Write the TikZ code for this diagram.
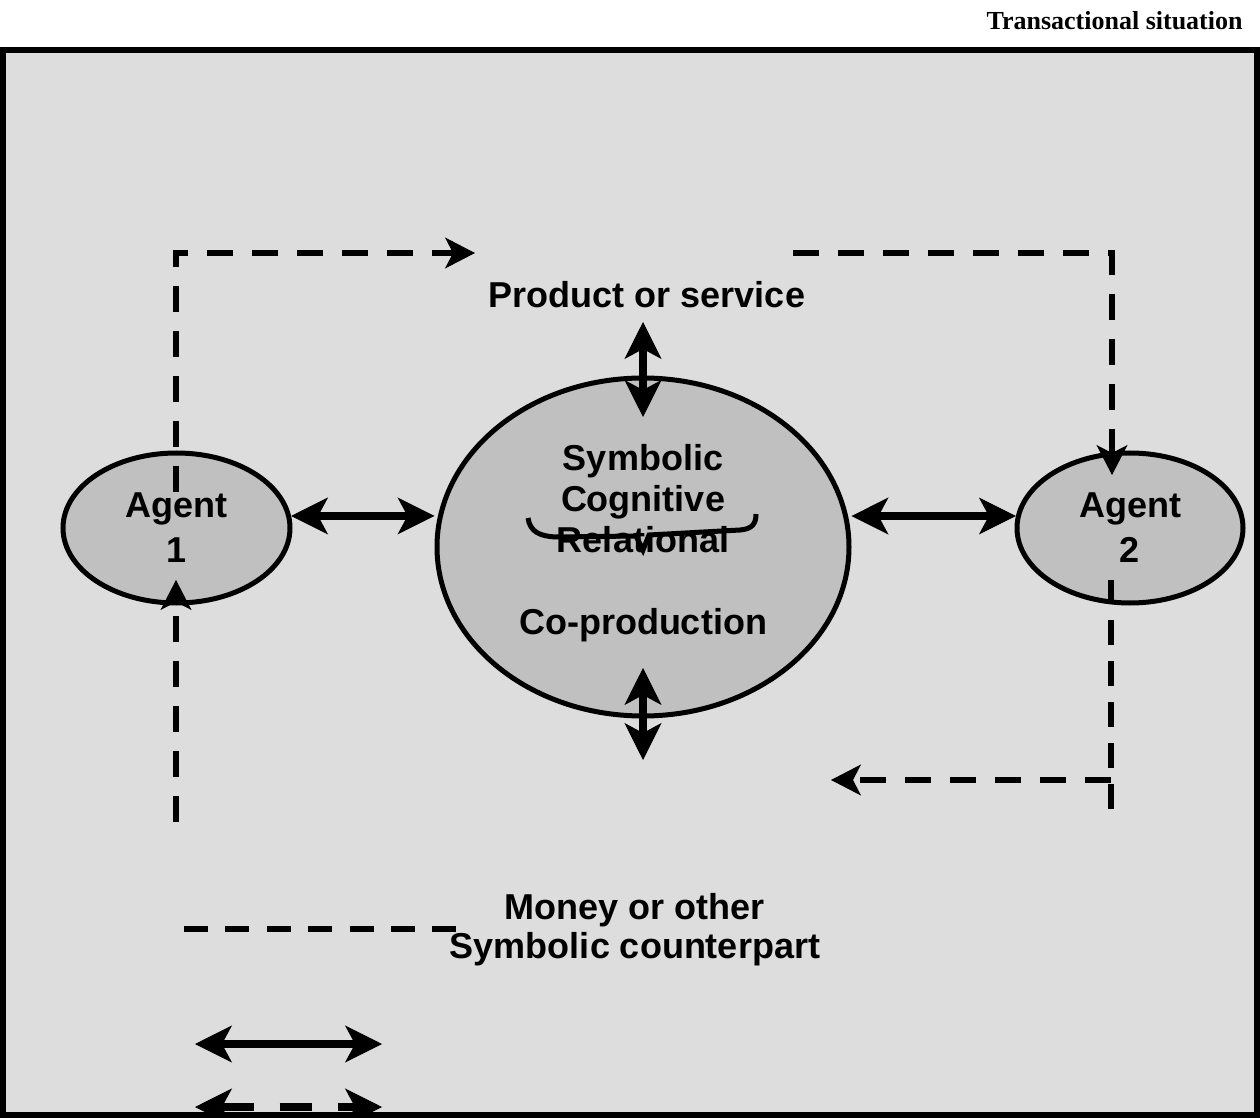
\documentclass[tikz,border=0pt]{standalone}
\usepackage{fontspec}
\setmainfont{Liberation Sans}
\newfontfamily\titlefont{Liberation Serif}
\usetikzlibrary{positioning,shapes.geometric,arrows.meta}
\definecolor{framegray}{HTML}{DDDDDD}
\definecolor{bubblegray}{HTML}{C0C0C0}

\begin{document}
\begin{tikzpicture}
            [x=0.5pt, y=-0.5pt,
            font=\bfseries\fontsize{18}{20.5}\selectfont,
            bubble/.style={ellipse, draw=black, line width=2.5pt, fill=bubblegray, inner sep=0pt, align=center},
            label text/.style={align=center, inner sep=0pt},
            biarrow/.style={line width=4pt,
                {Stealth[length=18.5pt, width=18.5pt, inset=5pt, line width=0.5pt]}-{Stealth[length=18.5pt, width=18.5pt, inset=5pt, line width=0.5pt]}},
            dashline/.style={line width=3.3pt, dash pattern=on 13pt off 9.5pt},
            flowarrow/.style={dashline, -{Stealth[length=15pt, width=15.5pt, inset=4pt, line width=0.5pt]}}]
            \clip (0,0) rectangle (1260,1118);
            \node [anchor=east, inner sep=0pt, font=\titlefont\bfseries\fontsize{13}{15}\selectfont] (title) at (1243,21) {Transactional situation};
            \draw [line width=2.8pt, fill=framegray] (3,50) rectangle (1257,1115);
            % the three bubbles
            \node [bubble, minimum width=206pt, minimum height=169pt] (core) at (643,547) {};
            \node [bubble, minimum width=113.5pt, minimum height=75pt, font=\bfseries\fontsize{18}{22.5}\selectfont] (agent1) at (176.5,528) {Agent\\1};
            \node [bubble, minimum width=113pt, minimum height=75pt, font=\bfseries\fontsize{18}{22.5}\selectfont] (agent2) at (1130,528) {Agent\\2};
            \node [label text] (modes) at (643,499) {Symbolic\\Cognitive\\Relational};
            \node [label text] (coprod) at (643,625) {Co-production};
            \node [label text] (product) at (647,295) {Product or service};
            \node [label text, font=\bfseries\fontsize{18}{19.5}\selectfont] (money) at (635,930) {Money or other\\Symbolic counterpart};
            \draw [line width=2.5pt] (528,518) .. controls (530,532) and (540,536) .. (555,537) -- (636,536) -- (643,550) -- (649,535) -- (740,530) .. controls (752,529) and (756,524) .. (756,514);
            % solid exchanges
            \draw [biarrow] (agent1.6) -- (agent1.6 -| core.west);
            \draw [biarrow] (core.east |- agent2.174) -- (agent2.174);
            \coordinate (ptop) at (643,322);
            \coordinate (pin) at (643,417);
            \draw [biarrow] (ptop) -- (pin);
            \coordinate (cin) at (643,668);
            \coordinate (cout) at (643,760);
            \draw [biarrow] (cin) -- (cout);
            % dashed flows
            \coordinate (a1top) at (176,492);
            \coordinate (prodarrow) at (475,253);
            \draw [flowarrow] (a1top) |- (prodarrow);
            \coordinate (prodback) at (793,253);
            \coordinate (a2top) at (1112,475);
            \draw [flowarrow] (prodback) -| (a2top);
            \coordinate (a2low) at (1111,580);
            \coordinate (a2end) at (1111,809);
            \draw [dashline, dash pattern=on 12.5pt off 8pt] (a2end) -- (a2low);
            \coordinate (moneyfork) at (1111,780);
            \coordinate (moneyarrow) at (831,780);
            \draw [flowarrow] (moneyfork) -- (moneyarrow);
            \coordinate (a1low) at (176,822);
            \coordinate (a1bottom) at (176,580);
            \draw [flowarrow] (a1low) -- (a1bottom);
            % legend
            \coordinate (legdash1) at (184,929);
            \coordinate (legdash2) at (457,929);
            \draw [dashline, dash pattern=on 12pt off 8.7pt] (legdash1) -- (legdash2);
            \coordinate (legsolidl) at (195,1044);
            \coordinate (legsolidr) at (382,1044);
            \draw [biarrow] (legsolidl) -- (legsolidr);
            \coordinate (legdashl) at (195,1107);
            \coordinate (legdashr) at (382,1107);
            \draw [biarrow, dash pattern=on 16pt off 13pt] (legdashl) -- (legdashr);
            \end{tikzpicture}
\end{document}
